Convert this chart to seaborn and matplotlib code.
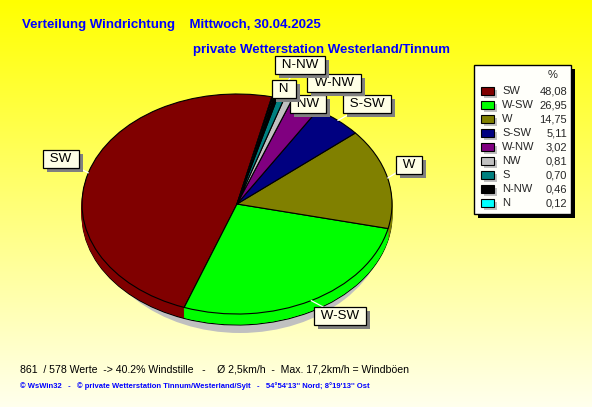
import numpy as np
import matplotlib
matplotlib.use("Agg")
import matplotlib.pyplot as plt
from matplotlib.patches import Rectangle, Ellipse
import matplotlib.patheffects as pe
import seaborn as sns

# ---- data ----
directions = ["SW", "W-SW", "W", "S-SW", "W-NW", "NW", "S", "N-NW", "N"]
percent = [48.08, 26.95, 14.75, 5.11, 3.02, 0.81, 0.70, 0.46, 0.12]
value_labels = ["48,08", "26,95", "14,75", "5,11", "3,02", "0,81", "0,70", "0,46", "0,12"]
colors = ["#800000", "#00FF00", "#808000", "#000080", "#800080",
          "#C0C0C0", "#008080", "#000000", "#00FFFF"]
title1 = "Verteilung Windrichtung    Mittwoch, 30.04.2025"
title2 = "private Wetterstation Westerland/Tinnum"
footer1 = "861  / 578 Werte  -> 40.2% Windstille   -    Ø 2,5km/h  -  Max. 17,2km/h = Windböen"
footer2 = "© WsWin32   -   © private Wetterstation Tinnum/Westerland/Sylt   -   54°54'13'' Nord; 8°19'13'' Ost"
# labelled slices and their box centres (pixels)
label_pos = {"S-SW": (367, 104), "NW": (308, 104), "W-NW": (334, 83), "N-NW": (300, 65),
             "N": (284, 89), "SW": (61, 159), "W": (409, 165), "W-SW": (340, 316)}

sns.set_style("white")
plt.rcParams["font.family"] = ["Liberation Sans", "DejaVu Sans"]

W, H = 592, 407
fig = plt.figure(figsize=(W / 100, H / 100), dpi=100)

# background gradient
bg = fig.add_axes([0, 0, 1, 1])
grad = np.linspace(0, 1, 256)
img = np.ones((256, 1, 3))
img[:, 0, 2] = grad * 0.93
bg.imshow(img, aspect="auto", extent=[0, 1, 0, 1], origin="upper")
bg.axis("off")

# pie axes (unit circle -> ellipse)
CX, CY, RX, RY = 237, 204, 155, 110
DEPTH = 11
ax = fig.add_axes([0, 0, 1, 1])
ax.patch.set_alpha(0)
START = 77

ax.add_patch(Ellipse(((240 - CX) / RX, (CY - 218) / RY), 2 * 148 / RX, 2 * 115 / RY,
                     facecolor="#C0C0C0", edgecolor="none"))
dz = DEPTH / RY
nl = 11
for k in range(nl, 0, -1):
    if k == nl:
        wp = dict(edgecolor="black", linewidth=0.8)
    else:
        wp = dict(linewidth=0.6)
    wedges, _ = ax.pie(percent, colors=colors, startangle=START, counterclock=True,
                       center=(0, -dz * k / nl), radius=1, wedgeprops=wp, frame=False)
    if k != nl:
        for w in wedges:
            w.set_edgecolor(w.get_facecolor())
ax.pie(percent, colors=colors, startangle=START, counterclock=True,
       center=(0, 0), radius=1, wedgeprops=dict(edgecolor="black", linewidth=0.8), frame=False)
ax.set_aspect("auto")
ax.set_xlim(-CX / RX, (W - CX) / RX)
ax.set_ylim(-(H - CY) / RY, CY / RY)
ax.axis("off")

# overlay axes in pixel coordinates
ov = fig.add_axes([0, 0, 1, 1])
ov.patch.set_alpha(0)
ov.set_xlim(0, W)
ov.set_ylim(H, 0)
ov.axis("off")

# labels with leader lines
cum = np.cumsum([0] + percent)
for name in label_pos:
    i = directions.index(name)
    mid = np.deg2rad(START + 3.6 * (cum[i] + cum[i + 1]) / 2)
    rx, ry = CX + RX * np.cos(mid), CY - RY * np.sin(mid)
    bx, by = label_pos[name]
    ov.plot([rx, bx], [ry, by], color="white", lw=0.9, zorder=2)

for z, (name, (bx, by)) in enumerate(label_pos.items()):
    t = ov.text(bx, by, " " + name + " ", fontsize=9.6, color="black", ha="center", va="center",
                zorder=4 + z * 0.01,
                bbox=dict(boxstyle="square,pad=0.24", fc="#FFFFE6", ec="black", lw=0.9))
    t.get_bbox_patch().set_path_effects([
        pe.SimplePatchShadow(offset=(2.9, -2.9), shadow_rgbFace="#808080", alpha=1.0),
        pe.Normal()])

# legend
ov.add_patch(Rectangle((478, 69), 97, 149, fc="black", ec="none", zorder=5))
ov.add_patch(Rectangle((474, 65), 97, 149, fc="#FFFFFA", ec="black", lw=1, zorder=6))
ov.text(553, 75, "%", fontsize=8, ha="center", va="center", zorder=7)
for i, (d, v, c) in enumerate(zip(directions, value_labels, colors)):
    y = 91 + 14 * i
    ov.add_patch(Rectangle((484, y - 1), 13, 8, fc="#C0C0C0", ec="none", zorder=7))
    ov.add_patch(Rectangle((481, y - 4), 13, 8, fc=c, ec="black", lw=0.8, zorder=8))
    ov.text(502, y, d, fontsize=8, ha="left", va="center", zorder=8)
    ov.text(567, y, v, fontsize=8, ha="right", va="center", zorder=8)

# titles
ov.text(22, 25, title1, fontsize=9.5, fontweight="bold", color="#0000FF", ha="left", va="center")
ov.text(193, 50, title2, fontsize=9.5, fontweight="bold", color="#0000FF", ha="left", va="center")
# footers
ov.text(20, 369, footer1, fontsize=7.55, color="black", ha="left", va="center")
ov.text(20, 386, footer2, fontsize=5.5, fontweight="bold", color="#0000FF", ha="left", va="center")

fig.savefig("out.png", dpi=100)
